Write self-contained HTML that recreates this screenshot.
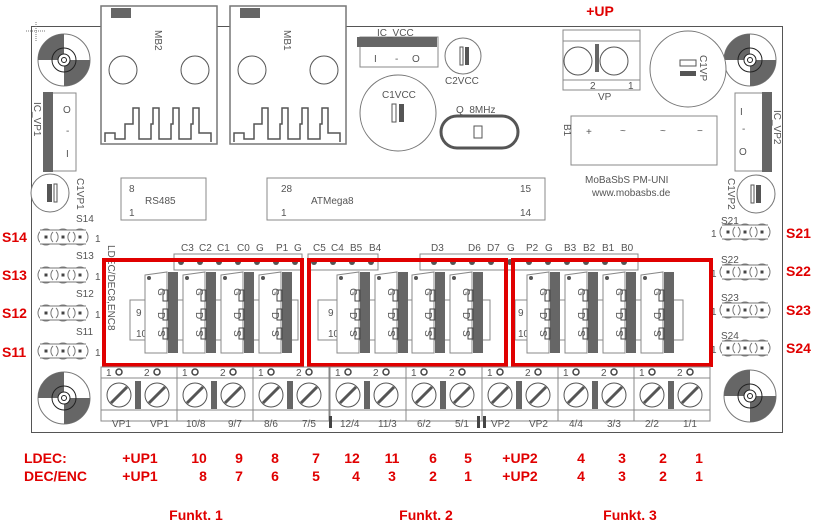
<!DOCTYPE html>
<html><head><meta charset="utf-8"><style>
html,body{margin:0;padding:0;background:#fff;width:815px;height:525px;overflow:hidden}
svg{display:block}
.t{font-family:"Liberation Sans",sans-serif;font-size:10px;fill:#555}
.r{font-family:"Liberation Sans",sans-serif;font-size:14px;font-weight:bold;fill:#e00000}
</style></head><body>
<svg width="815" height="525" viewBox="0 0 815 525" xmlns="http://www.w3.org/2000/svg">
<defs>
<g id="hole">
<circle r="26" fill="#fff" stroke="#777"/>
<path d="M0,0 L-26,0 A26,26 0 0 1 0,-26 Z" fill="#666"/>
<path d="M0,0 L26,0 A26,26 0 0 1 0,26 Z" fill="#666"/>
<circle r="12" fill="none" stroke="#222"/>
<circle r="6" fill="#fff" stroke="#222"/>
<circle r="2.5" fill="none" stroke="#222"/>
</g>
<g id="hdr">
<circle cx="10" cy="0" r="8" fill="#fff" stroke="#777"/>
<circle cx="27" cy="0" r="8" fill="#fff" stroke="#777"/>
<circle cx="44" cy="0" r="8" fill="#fff" stroke="#777"/>
<rect x="4" y="-7" width="46" height="14" fill="#fff" stroke="none"/>
<path d="M4,-7 H50 M4,7 H50" stroke="#777" fill="none"/>
<path d="M17,-5 a7,7 0 0 0 0,10 M20,-5 a7,7 0 0 1 0,10 M34,-5 a7,7 0 0 0 0,10 M37,-5 a7,7 0 0 1 0,10" stroke="#777" fill="none"/>
<rect x="8.5" y="-1.5" width="3" height="3" fill="#444"/><rect x="25.5" y="-1.5" width="3" height="3" fill="#444"/><rect x="42.5" y="-1.5" width="3" height="3" fill="#444"/>
</g>
<g id="tr">
<path d="M0,3 L22,0 V81 H0 Z" fill="#fff" stroke="#888"/>
<circle cx="4" cy="6" r="2" fill="#555"/>
<rect x="23" y="0" width="10" height="81" fill="#666"/>
<rect x="18" y="18" width="5" height="11" fill="none" stroke="#444"/>
<rect x="18" y="37" width="5" height="11" fill="none" stroke="#444"/>
<rect x="18" y="56" width="5" height="11" fill="none" stroke="#444"/>
<text class="t" x="13" y="20" font-size="12" transform="rotate(90 13 20)" text-anchor="middle" dy="0">G</text>
<text class="t" x="13" y="40" font-size="12" transform="rotate(90 13 40)">D</text>
<text class="t" x="13" y="58" font-size="12" transform="rotate(90 13 58)">S</text>
</g>
<g id="term">
<rect x="0" y="0" width="76" height="54" fill="#fff" stroke="#888"/>
<line x1="0" y1="11" x2="76" y2="11" stroke="#888"/>
<line x1="0" y1="43" x2="76" y2="43" stroke="#888"/>
<text class="t" x="5" y="9" font-size="11">1</text><circle cx="18" cy="5" r="3" fill="none" stroke="#444" stroke-width="1.5"/>
<text class="t" x="43" y="9" font-size="11">2</text><circle cx="56" cy="5" r="3" fill="none" stroke="#444" stroke-width="1.5"/>
<circle cx="18" cy="28" r="12" fill="#fff" stroke="#555"/><line x1="10" y1="36" x2="26" y2="20" stroke="#555" stroke-width="3"/>
<circle cx="56" cy="28" r="12" fill="#fff" stroke="#555"/><line x1="48" y1="36" x2="64" y2="20" stroke="#555" stroke-width="3"/>
<rect x="34" y="14" width="6" height="28" fill="#666"/>
</g>
<g id="rj">
<rect x="0" y="0" width="116" height="138" fill="#fff" stroke="#777" stroke-width="1.5"/>
<rect x="10" y="2" width="20" height="10" fill="#666"/>
<circle cx="22" cy="64" r="14" fill="none" stroke="#555"/><circle cx="94" cy="64" r="14" fill="none" stroke="#555"/>
<path d="M4,136 V127 H14 V133 H24 V118 H32 V102 H38 V133 H50 V118 H52 V102 H58 V133 H70 V118 H72 V102 H78 V133 H90 V118 H92 V102 H98 V127 H110 V136" fill="none" stroke="#555" stroke-width="1.5"/>
</g>
</defs>

<rect x="31.5" y="26.5" width="751" height="406" fill="#fff" stroke="#555"/>
<line x1="26" y1="31" x2="46" y2="31" stroke="#777" stroke-dasharray="1,1"/><line x1="36" y1="22" x2="36" y2="42" stroke="#777" stroke-dasharray="1,1"/>

<use href="#hole" x="64" y="60"/>
<use href="#hole" x="750" y="60"/>
<use href="#hole" x="64" y="398"/>
<use href="#hole" x="750" y="396"/>

<use href="#rj" x="101" y="6"/>
<use href="#rj" x="230" y="6"/>
<text class="t" x="155" y="30" transform="rotate(90 155 30)">MB2</text>
<text class="t" x="284" y="30" transform="rotate(90 284 30)">MB1</text>

<rect x="360" y="37" width="78" height="30" fill="#fff" stroke="#888"/>
<rect x="357" y="37" width="80" height="10" fill="#666"/>
<text class="t" x="377" y="36">IC_VCC</text>
<text class="t" x="374" y="62" font-size="12">I</text><text class="t" x="395" y="62">-</text><text class="t" x="412" y="62" font-size="12">O</text>
<circle cx="463" cy="56" r="18" fill="#fff" stroke="#777"/>
<rect x="460" y="47" width="3" height="18" fill="none" stroke="#555"/><rect x="465" y="47" width="4" height="18" fill="#555"/>
<text class="t" x="445" y="84">C2VCC</text>
<circle cx="398" cy="113" r="38" fill="#fff" stroke="#777"/>
<text class="t" x="382" y="98">C1VCC</text>
<rect x="392" y="104" width="4" height="18" fill="none" stroke="#555"/><rect x="399" y="104" width="5" height="18" fill="#555"/>
<rect x="441" y="116" width="77" height="32" rx="16" fill="#fff" stroke="#555" stroke-width="3"/>
<text class="t" x="456" y="113">Q_8MHz</text>
<rect x="474" y="126" width="8" height="12" fill="none" stroke="#555"/>

<rect x="563" y="30" width="77" height="60" fill="#fff" stroke="#888"/>
<line x1="563" y1="41" x2="640" y2="41" stroke="#888"/><line x1="563" y1="80" x2="640" y2="80" stroke="#888"/>
<circle cx="578" cy="61" r="14" fill="none" stroke="#555"/><circle cx="614" cy="61" r="14" fill="none" stroke="#555"/>
<rect x="595" y="44" width="4" height="28" fill="#666"/>
<text class="t" x="590" y="89">2</text><text class="t" x="628" y="89">1</text>
<text class="t" x="598" y="100">VP</text>
<text class="r" x="600" y="16" text-anchor="middle">+UP</text>
<circle cx="688" cy="69" r="38" fill="#fff" stroke="#777"/>
<rect x="680" y="60" width="16" height="6" fill="none" stroke="#555"/><rect x="680" y="71" width="16" height="5" fill="#555"/>
<text class="t" x="700" y="55" transform="rotate(90 700 55)">C1VP</text>
<rect x="571" y="116" width="146" height="49" fill="#fff" stroke="#888"/>
<text class="t" x="586" y="135" font-size="14">+</text><text class="t" x="620" y="134" font-size="14">~</text><text class="t" x="660" y="134" font-size="14">~</text><text class="t" x="697" y="134" font-size="14">−</text>
<text class="t" x="564" y="124" transform="rotate(90 564 124)">B1</text>
<text class="t" x="585" y="183">MoBaSbS PM-UNI</text>
<text class="t" x="592" y="196">www.mobasbs.de</text>
<rect x="735" y="93" width="30" height="78" fill="#fff" stroke="#888"/>
<rect x="762" y="92" width="10" height="80" fill="#666"/>
<text class="t" x="740" y="115" font-size="12">I</text><text class="t" x="742" y="132">-</text><text class="t" x="739" y="155" font-size="12">O</text>
<text class="t" x="774" y="110" transform="rotate(90 774 110)">IC_VP2</text>
<circle cx="756" cy="194" r="19" fill="#fff" stroke="#777"/>
<rect x="751" y="185" width="3" height="18" fill="none" stroke="#555"/><rect x="756" y="185" width="5" height="18" fill="#555"/>
<text class="t" x="728" y="178" transform="rotate(90 728 178)">C1VP2</text>
<rect x="46" y="93" width="30" height="78" fill="#fff" stroke="#888"/>
<rect x="43" y="92" width="10" height="80" fill="#666"/>
<text class="t" x="63" y="113" font-size="12">O</text><text class="t" x="66" y="134">-</text><text class="t" x="66" y="157" font-size="12">I</text>
<text class="t" x="34" y="102" transform="rotate(90 34 102)">IC_VP1</text>
<circle cx="50" cy="193" r="19" fill="#fff" stroke="#777"/>
<rect x="47" y="184" width="5" height="18" fill="#555"/><rect x="54" y="184" width="3" height="18" fill="none" stroke="#555"/>
<text class="t" x="77" y="178" transform="rotate(90 77 178)">C1VP1</text>
<rect x="121" y="178" width="85" height="42" fill="#fff" stroke="#888"/>
<text class="t" x="129" y="192" font-size="12">8</text><text class="t" x="129" y="216" font-size="12">1</text><text class="t" x="145" y="204">RS485</text>
<rect x="267" y="178" width="278" height="42" fill="#fff" stroke="#888"/>
<text class="t" x="281" y="192" font-size="12">28</text><text class="t" x="281" y="216" font-size="12">1</text><text class="t" x="311" y="204">ATMega8</text>
<text class="t" x="520" y="192" font-size="12">15</text><text class="t" x="520" y="216" font-size="12">14</text>

<use href="#hdr" x="36" y="237"/><use href="#hdr" x="36" y="275"/><use href="#hdr" x="36" y="313"/><use href="#hdr" x="36" y="351"/>
<text class="t" x="76" y="222">S14</text><text class="t" x="76" y="259">S13</text><text class="t" x="76" y="297">S12</text><text class="t" x="76" y="335">S11</text>
<text class="t" x="95" y="242" font-size="12">1</text><text class="t" x="95" y="280" font-size="12">1</text><text class="t" x="95" y="318" font-size="12">1</text><text class="t" x="95" y="356" font-size="12">1</text>
<text class="r" x="2" y="242">S14</text><text class="r" x="2" y="280">S13</text><text class="r" x="2" y="318">S12</text><text class="r" x="2" y="357">S11</text>
<use href="#hdr" x="718" y="232"/><use href="#hdr" x="718" y="272"/><use href="#hdr" x="718" y="310"/><use href="#hdr" x="718" y="348"/>
<text class="t" x="721" y="224">S21</text><text class="t" x="721" y="263">S22</text><text class="t" x="721" y="301">S23</text><text class="t" x="721" y="339">S24</text>
<text class="t" x="711" y="237" font-size="12">1</text><text class="t" x="711" y="277" font-size="12">1</text><text class="t" x="711" y="315" font-size="12">1</text><text class="t" x="711" y="353" font-size="12">1</text>
<text class="r" x="786" y="238">S21</text><text class="r" x="786" y="276">S22</text><text class="r" x="786" y="315">S23</text><text class="r" x="786" y="353">S24</text>

<g fill="#fff" stroke="#888">
<rect x="174" y="254" width="128" height="16"/><rect x="308" y="254" width="70" height="16"/><rect x="420" y="254" width="218" height="16"/>
</g>
<g fill="#555">
<circle cx="181" cy="262" r="3"/><circle cx="200" cy="262" r="3"/><circle cx="219" cy="262" r="3"/><circle cx="238" cy="262" r="3"/><circle cx="257" cy="262" r="3"/><circle cx="276" cy="262" r="3"/><circle cx="295" cy="262" r="3"/>
<circle cx="314" cy="262" r="3"/><circle cx="333" cy="262" r="3"/><circle cx="352" cy="262" r="3"/><circle cx="371" cy="262" r="3"/>
<circle cx="434" cy="262" r="3"/><circle cx="453" cy="262" r="3"/><circle cx="472" cy="262" r="3"/><circle cx="491" cy="262" r="3"/><circle cx="510" cy="262" r="3"/><circle cx="529" cy="262" r="3"/><circle cx="548" cy="262" r="3"/><circle cx="567" cy="262" r="3"/><circle cx="586" cy="262" r="3"/><circle cx="605" cy="262" r="3"/><circle cx="624" cy="262" r="3"/>
</g>
<g font-size="9">
<text x="181" y="251" class="t">C3</text><text x="199" y="251" class="t">C2</text><text x="217" y="251" class="t">C1</text><text x="237" y="251" class="t">C0</text><text x="256" y="251" class="t">G</text><text x="276" y="251" class="t">P1</text><text x="294" y="251" class="t">G</text>
<text x="313" y="251" class="t">C5</text><text x="331" y="251" class="t">C4</text><text x="350" y="251" class="t">B5</text><text x="369" y="251" class="t">B4</text>
<text x="431" y="251" class="t">D3</text><text x="468" y="251" class="t">D6</text><text x="487" y="251" class="t">D7</text><text x="507" y="251" class="t">G</text><text x="526" y="251" class="t">P2</text><text x="545" y="251" class="t">G</text><text x="564" y="251" class="t">B3</text><text x="583" y="251" class="t">B2</text><text x="602" y="251" class="t">B1</text><text x="621" y="251" class="t">B0</text>
</g>
<text class="t" x="108" y="245" font-size="9" transform="rotate(90 108 245)">LDEC/DEC8,ENC8</text>

<rect x="130" y="300" width="168" height="40" fill="none" stroke="#888"/>
<rect x="318" y="300" width="172" height="40" fill="none" stroke="#888"/>
<rect x="515" y="300" width="168" height="40" fill="none" stroke="#888"/>
<text class="t" x="136" y="316" font-size="12">9</text><text class="t" x="136" y="337" font-size="12">10</text>
<text class="t" x="328" y="316" font-size="12">9</text><text class="t" x="328" y="337" font-size="12">10</text>
<text class="t" x="518" y="316" font-size="12">9</text><text class="t" x="518" y="337" font-size="12">10</text>

<use href="#tr" x="145" y="272"/><use href="#tr" x="183" y="272"/><use href="#tr" x="221" y="272"/><use href="#tr" x="259" y="272"/>
<use href="#tr" x="337" y="272"/><use href="#tr" x="375" y="272"/><use href="#tr" x="412" y="272"/><use href="#tr" x="450" y="272"/>
<use href="#tr" x="527" y="272"/><use href="#tr" x="565" y="272"/><use href="#tr" x="603" y="272"/><use href="#tr" x="641" y="272"/>

<g fill="none" stroke="#e00000" stroke-width="4">
<rect x="104" y="260" width="198" height="105"/>
<rect x="309" y="260" width="197" height="105"/>
<rect x="513" y="260" width="198" height="105"/>
</g>

<use href="#term" x="101" y="367"/><use href="#term" x="177" y="367"/><use href="#term" x="253" y="367"/><use href="#term" x="330" y="367"/><use href="#term" x="406" y="367"/><use href="#term" x="482" y="367"/><use href="#term" x="558" y="367"/><use href="#term" x="634" y="367"/>
<rect x="329" y="416" width="3" height="12" fill="#444"/><rect x="477" y="416" width="3" height="12" fill="#444"/><rect x="483" y="416" width="3" height="12" fill="#444"/>
<g font-size="9">
<text class="t" x="112" y="427">VP1</text><text class="t" x="150" y="427">VP1</text><text class="t" x="186" y="427">10/8</text><text class="t" x="228" y="427">9/7</text><text class="t" x="264" y="427">8/6</text><text class="t" x="302" y="427">7/5</text><text class="t" x="340" y="427">12/4</text><text class="t" x="378" y="427">11/3</text><text class="t" x="417" y="427">6/2</text><text class="t" x="455" y="427">5/1</text><text class="t" x="491" y="427">VP2</text><text class="t" x="529" y="427">VP2</text><text class="t" x="569" y="427">4/4</text><text class="t" x="607" y="427">3/3</text><text class="t" x="645" y="427">2/2</text><text class="t" x="683" y="427">1/1</text>
</g>

<g text-anchor="middle">
<text class="r" x="24" y="463" text-anchor="start">LDEC:</text>
<text class="r" x="24" y="481" text-anchor="start">DEC/ENC</text>
<text class="r" x="140" y="463">+UP1</text><text class="r" x="140" y="481">+UP1</text>
<text class="r" x="199" y="463">10</text><text class="r" x="239" y="463">9</text><text class="r" x="275" y="463">8</text><text class="r" x="316" y="463">7</text><text class="r" x="352" y="463">12</text><text class="r" x="392" y="463">11</text><text class="r" x="433" y="463">6</text><text class="r" x="468" y="463">5</text>
<text class="r" x="203" y="481">8</text><text class="r" x="239" y="481">7</text><text class="r" x="275" y="481">6</text><text class="r" x="316" y="481">5</text><text class="r" x="356" y="481">4</text><text class="r" x="392" y="481">3</text><text class="r" x="433" y="481">2</text><text class="r" x="468" y="481">1</text>
<text class="r" x="520" y="463">+UP2</text><text class="r" x="520" y="481">+UP2</text>
<text class="r" x="581" y="463">4</text><text class="r" x="622" y="463">3</text><text class="r" x="663" y="463">2</text><text class="r" x="699" y="463">1</text>
<text class="r" x="581" y="481">4</text><text class="r" x="622" y="481">3</text><text class="r" x="663" y="481">2</text><text class="r" x="699" y="481">1</text>
<text class="r" x="196" y="520">Funkt. 1</text><text class="r" x="426" y="520">Funkt. 2</text><text class="r" x="630" y="520">Funkt. 3</text>
</g>
</svg>
</body></html>
